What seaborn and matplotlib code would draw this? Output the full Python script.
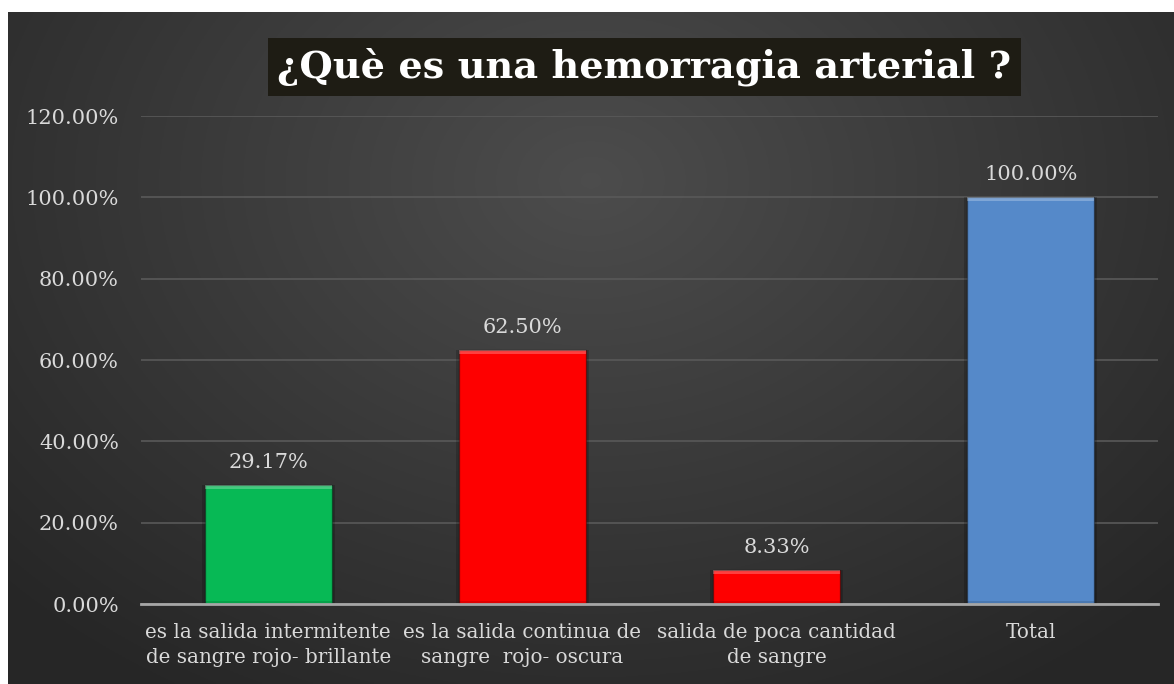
import numpy as np
import pandas as pd
import matplotlib
matplotlib.use('Agg')
import matplotlib.pyplot as plt
import seaborn as sns
from matplotlib.patches import Rectangle

# ------------------------------------------------------- #
#                          DATOS                          #
# ------------------------------------------------------- #
categorias = [
    'es la salida intermitente\nde sangre rojo- brillante',
    'es la salida continua de\nsangre  rojo- oscura',
    'salida de poca cantidad\nde sangre',
    'Total',
]
porcentajes = [29.17, 62.50, 8.33, 100.00]
colores = ['#07b955', '#fe0000', '#fe0000', '#5589c9']
ticks_y = [0, 20, 40, 60, 80, 100, 120]
titulo = '¿Què es una hemorragia arterial ?'

df = pd.DataFrame({'categoria': categorias, 'porcentaje': porcentajes})

sns.set_style('dark')
plt.rcParams['font.family'] = ['DejaVu Serif']

fig = plt.figure(figsize=(11.74, 6.84), dpi=100)
fig.patch.set_facecolor('white')

# fondo con degradado radial
bg = fig.add_axes([8 / 1174, 0, 1 - 8 / 1174, 1 - 12 / 684])
yy, xx = np.mgrid[0:1:300j, 0:1:500j]
r = np.sqrt(((xx - 0.5) * 1.3) ** 2 + ((yy - 0.25) * 1.0) ** 2)
r = np.clip(r / 0.9, 0, 1)
val = 0.30 - 0.15 * r
bg.imshow(np.dstack([val, val, val]), aspect='auto', extent=[0, 1, 1, 0])
bg.set_axis_off()

# ejes del grafico
L, R = 141 / 1174, 1158 / 1174
B, T = 1 - 604 / 684, 1 - 116 / 684
ax = fig.add_axes([L, B, R - L, T - B])
ax.patch.set_alpha(0)

sns.barplot(data=df, x='categoria', y='porcentaje', hue='categoria',
            palette=colores, width=0.5, legend=False, ax=ax, zorder=3,
            saturation=1)

# efecto de bisel
for p in ax.patches:
    x0, y0 = p.get_x(), p.get_y()
    w, h = p.get_width(), p.get_height()
    p.set_edgecolor((0, 0, 0, 0.35))
    p.set_linewidth(1)
    ax.add_patch(Rectangle((x0, y0 + h - 1.0), w, 1.0, facecolor='white',
                           alpha=0.25, lw=0, zorder=4))
    ax.add_patch(Rectangle((x0, y0), w, 0.8, facecolor='black',
                           alpha=0.12, lw=0, zorder=4))
    ax.add_patch(Rectangle((x0 - 0.012, y0), 0.012, h, facecolor='black',
                           alpha=0.18, lw=0, zorder=2))
    ax.add_patch(Rectangle((x0 + w, y0), 0.012, h, facecolor='black',
                           alpha=0.18, lw=0, zorder=2))

for i, v in enumerate(porcentajes):
    ax.text(i, v + 3.2, f'{v:.2f}%', ha='center', va='bottom',
            fontsize=15, color='#d9d9d9', zorder=5)

ax.set_ylim(0, 120)
ax.set_xlim(-0.5, len(categorias) - 0.5)
ax.set_yticks(ticks_y)
ax.set_yticklabels([f'{t:.2f}%' for t in ticks_y], fontsize=15, color='#d9d9d9')
ax.tick_params(axis='x', labelsize=14.3, labelcolor='#d9d9d9', length=0, pad=14)
ax.tick_params(axis='y', length=0, pad=16)
for lbl in ax.get_xticklabels():
    lbl.set_linespacing(1.35)
ax.grid(axis='y', color='#595959', linewidth=1.2, zorder=0)
ax.grid(axis='x', visible=False)
for s in ['top', 'right', 'left']:
    ax.spines[s].set_visible(False)
ax.spines['bottom'].set_color('#a6a6a6')
ax.spines['bottom'].set_linewidth(2)
ax.spines['bottom'].set_zorder(6)
ax.set_xlabel('')
ax.set_ylabel('')

# titulo en recuadro negro
fig.text(0.5 * (262 + 1027) / 1174, 1 - 67 / 684, titulo, ha='center', va='center',
         fontsize=27.5, fontweight='bold', color='white',
         bbox=dict(facecolor='#1e1c14', edgecolor='none', pad=7))

fig.savefig('out.png', dpi=100)
